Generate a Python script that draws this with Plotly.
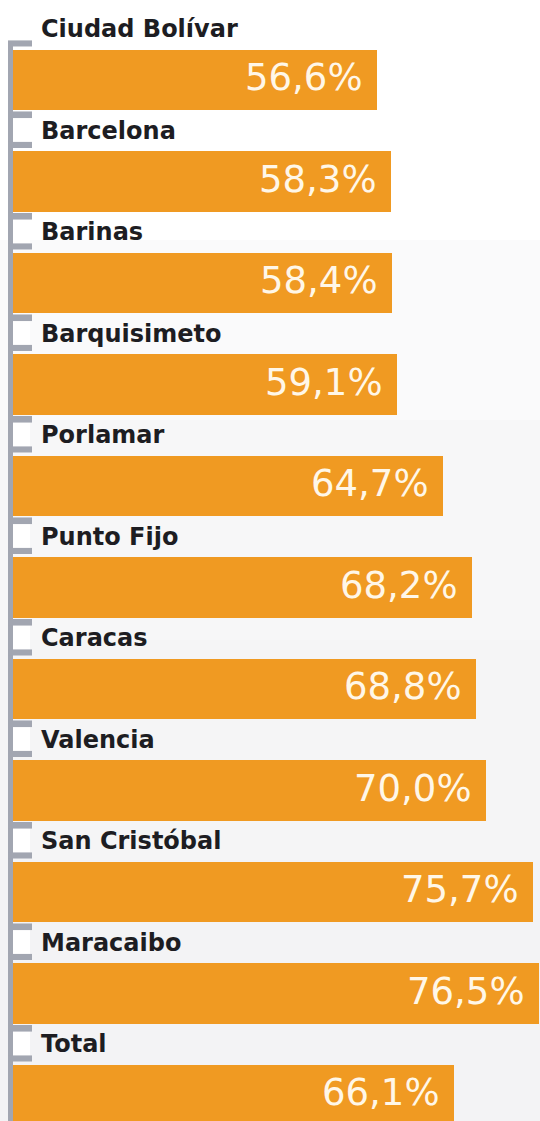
import plotly.graph_objects as go

# ---- data ----
cities = ["Ciudad Bolívar", "Barcelona", "Barinas", "Barquisimeto", "Porlamar",
          "Punto Fijo", "Caracas", "Valencia", "San Cristóbal", "Maracaibo", "Total"]
values = [56.6, 58.3, 58.4, 59.1, 64.7, 68.2, 68.8, 70.0, 75.7, 76.5, 66.1]
value_labels = [f"{v:.1f}".replace(".", ",") + "%" for v in values]
positions = list(range(len(cities)))

# ---- style ----
BAR = "#F09A22"
AXIS_GRAY = "#A2A6B1"
LABEL_COLOR = "#1d1d22"
VALUE_COLOR = "#FFF7E8"
BG = "#F3F3F5"
W, H = 540, 1121
LEFT = 13

fig = go.Figure(
    go.Bar(
        x=values, y=positions, orientation="h", width=0.6,
        marker=dict(color=BAR, line=dict(width=0)),
        hoverinfo="skip",
    )
)

shapes = []
# soft background: white at the top fading to light grey
bands = [(0, 240, "#FFFFFF"), (240, 420, "#FAFAFB"), (420, 640, "#F7F7F8"), (640, 860, "#F5F5F6")]
for top, bot, col in bands:
    shapes.append(dict(type="rect", xref="paper", yref="paper", x0=-0.1, x1=1.1,
                       y0=1 - bot / H, y1=1 - top / H + (0.05 if top == 0 else 0),
                       fillcolor=col, line=dict(width=0), layer="below"))

n = len(cities)
# white bracket interiors between bars
for i in positions:
    if i > 0:
        shapes.append(dict(type="rect", xref="paper", xsizemode="pixel", xanchor=0,
                           x0=0, x1=17, yref="y", y0=i - 1 + 0.34, y1=i - 0.35,
                           fillcolor="#FFFFFF", line=dict(width=0), layer="below"))
# axis line
shapes.append(dict(type="rect", xref="paper", xsizemode="pixel", xanchor=0,
                   x0=-5, x1=0, yref="y", y0=-0.385, y1=n + 0.5,
                   fillcolor=AXIS_GRAY, line=dict(width=0), layer="below"))
# stubs at bar edges
for i in positions:
    for (a, b) in [(-0.39, -0.33), (0.31, 0.375)]:
        shapes.append(dict(type="rect", xref="paper", xsizemode="pixel", xanchor=0,
                           x0=-5, x1=19, yref="y", y0=i + a, y1=i + b,
                           fillcolor=AXIS_GRAY, line=dict(width=0), layer="below"))

annotations = []
for i, (c, v, t) in enumerate(zip(cities, values, value_labels)):
    annotations.append(dict(
        x=0, xref="paper", xanchor="left", xshift=26,
        y=i - 0.50, yref="y", yanchor="middle",
        text=c, showarrow=False,
        font=dict(family="DejaVu Sans", size=24, color=LABEL_COLOR, weight="bold"),
    ))
    annotations.append(dict(
        x=v, xref="x", xanchor="right", xshift=-12,
        y=i - 0.02, yref="y", yanchor="middle",
        text=t, showarrow=False,
        font=dict(family="DejaVu Sans", size=37, color=VALUE_COLOR),
    ))

fig.update_layout(
    width=W, height=H,
    margin=dict(l=LEFT, r=0, t=0, b=0),
    paper_bgcolor=BG,
    plot_bgcolor="rgba(0,0,0,0)",
    showlegend=False,
    xaxis=dict(range=[11.9, 76.6], visible=False, fixedrange=True),
    yaxis=dict(range=[10.256, -0.788], visible=False, fixedrange=True),
    shapes=shapes,
    annotations=annotations,
    bargap=0,
)

fig.write_html("out.html", config={"displayModeBar": False},
               post_script="document.body.style.margin='0';document.body.style.overflow='hidden';")
